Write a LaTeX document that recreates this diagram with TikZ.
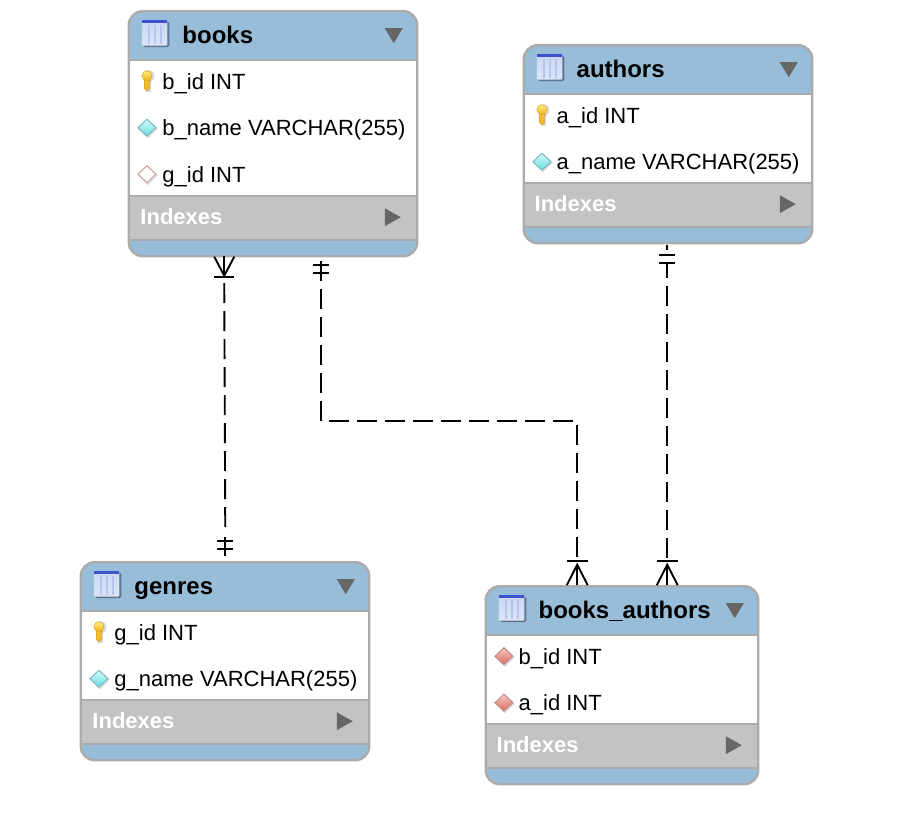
\documentclass[tikz,border=0pt]{standalone}
\usepackage{fontspec}
\setmainfont{Liberation Sans}
\usetikzlibrary{calc}
\definecolor{hdrblue}{HTML}{97BDD8}
\definecolor{idxgray}{HTML}{C3C3C3}
\definecolor{edgegray}{HTML}{ABABAB}
\definecolor{arrowgray}{HTML}{666666}
\definecolor{iconbar}{HTML}{3F50D0}
\definecolor{icontop}{HTML}{C9D6F2}
\definecolor{iconbot}{HTML}{DDE6F8}
\definecolor{iconstripe}{HTML}{B4C6EC}
\definecolor{iconshadow}{HTML}{5F7590}
\definecolor{keytop}{HTML}{FFF07A}
\definecolor{keybot}{HTML}{F2B21E}
\definecolor{keyedge}{HTML}{D9A520}
\definecolor{cyantop}{HTML}{D6FBFB}
\definecolor{cyanbot}{HTML}{63DDE0}
\definecolor{cyanedge}{HTML}{7FB9BE}
\definecolor{redtop}{HTML}{F8C8C0}
\definecolor{redbot}{HTML}{DC6A62}
\definecolor{rededge}{HTML}{C08F8A}
\definecolor{openedge}{HTML}{C9A097}
\tikzset{
  tablebox/.style={rectangle,anchor=north west,inner sep=0pt,outer sep=0pt},
  tableedge/.style={draw=edgegray,line width=2.4pt,rounded corners=14pt},
  sepline/.style={draw=edgegray,line width=1.7pt},
  tabletitle/.style={anchor=base west,inner sep=0pt,font=\fontsize{24}{26}\selectfont\bfseries,text=black},
  rowtext/.style={anchor=base west,inner sep=0pt,font=\fontsize{22}{24}\selectfont,text=black},
  idxtext/.style={anchor=base west,inner sep=0pt,font=\fontsize{22}{24}\selectfont\bfseries,text=white},
  relline/.style={draw=black,line width=1.9pt,line cap=butt,line join=miter},
  reldash/.style={relline,dash pattern=on 20pt off 8pt},
}
\newcommand{\txtadj}{0}
% diamond icon: centre #1,#2; top colour #3; bottom colour #4; edge #5
\newcommand{\icondiamond}[5]{%
  \fill[black,opacity=.12] (#1+1,#2-8.5) -- (#1+11,#2+1) -- (#1+1,#2+11) -- (#1-9,#2+1) -- cycle;
  \shade[top color=#3,bottom color=#4,draw=#5,line width=1pt]
    (#1,#2-8.5) -- (#1+9,#2) -- (#1,#2+8.5) -- (#1-9,#2) -- cycle;}
\newcommand{\iconkey}[2]{%
  \fill[black,opacity=.15] (#1+1.5,#2-5) circle (6pt);
  \fill[black,opacity=.15] (#1-.5,#2-1) rectangle (#1+4.5,#2+10.5);
  \shade[top color=keybot!70!keytop,bottom color=keybot,draw=keyedge,line width=.5pt]
    (#1-2.4,#2-2) -- (#1-2.4,#2+7.5) -- (#1,#2+9.5) -- (#1+2.4,#2+7.5) -- (#1+2.4,#2-2) -- cycle;
  \shade[top color=keytop,bottom color=keybot,draw=keyedge,line width=.5pt]
    (#1,#2-5.5) circle (5pt);}
% row: index #1, kind #2, text #3
\newcommand{\erdrow}[3]{%
  \pgfmathsetmacro{\rowbase}{78+#1*46.5}%
  \pgfmathsetmacro{\rowmid}{\rowbase-8}%
  \csname rowicon#2\endcsname{18.2}{\rowmid}%
  \node[rowtext] at (33.5+\txtadj,\rowbase) {#3};}
\newcommand{\rowiconkey}[2]{\iconkey{#1}{#2}}
\newcommand{\rowiconcyan}[2]{\icondiamond{#1}{#2}{cyantop}{cyanbot}{cyanedge}}
\newcommand{\rowiconopen}[2]{\icondiamond{#1}{#2}{white}{white}{openedge}}
\newcommand{\rowiconred}[2]{\icondiamond{#1}{#2}{redtop}{redbot}{rededge}}
% table: id, x, y, width, white-area bottom (relative), title, rows
\newcommand{\erdtable}[7]{%
  \node[tablebox,minimum width=#4pt,minimum height=#5+60pt] (#1) at (#2,#3) {};
  \begin{scope}[shift={(#2,#3)}]
    \begin{scope}
      \clip[rounded corners=14pt] (0,0) rectangle (#4,#5+60);
      \fill[hdrblue] (0,0) rectangle (#4,#5+60);
      \fill[white] (0,49) rectangle (#4,#5);
      \fill[idxgray] (0,#5) rectangle (#4,#5+44);
      \draw[sepline] (0,49) -- (#4,49);
      \draw[sepline] (0,#5) -- (#4,#5);
      \draw[sepline] (0,#5+44) -- (#4,#5+44);
    \end{scope}
    \draw[tableedge] (0,0) rectangle (#4,#5+60);
    % table icon
    \fill[iconshadow,rounded corners=1.5pt] (14.5,10.5) rectangle (40.5,36);
    \shade[top color=icontop,bottom color=iconbot,rounded corners=1pt] (13,9.5) rectangle (38.5,34.5);
    \fill[iconbar] (13,9) rectangle (38.5,12);
    \foreach \vx in {19,25,31}{\fill[iconstripe] (\vx,14) rectangle (\vx+2,32.5);}
    \node[tabletitle] at (53.5+\txtadj,32) {#6};
    \fill[arrowgray] (#4-32.5,17) -- (#4-14.5,17) -- (#4-23.5,32) -- cycle;
    \node[idxtext] at (11.5+\txtadj,#5+28) {Indexes};
    \fill[arrowgray] (#4-32.5,#5+12) -- (#4-16.5,#5+21) -- (#4-32.5,#5+30) -- cycle;
    #7
  \end{scope}}
\begin{document}
\begin{tikzpicture}[x=1pt,y=-1pt]
\useasboundingbox (0,0) rectangle (902,821);
\fill[white] (0,0) rectangle (902,821);
\erdtable{books}{128.75}{11.2}{288.5}{185}{books}{%
  \erdrow{0}{key}{b\_id INT}\erdrow{1}{cyan}{b\_name VARCHAR(255)}\erdrow{2}{open}{g\_id INT}}
\erdtable{genres}{80.75}{562.2}{288.5}{138}{genres}{%
  \erdrow{0}{key}{g\_id INT}\erdrow{1}{cyan}{g\_name VARCHAR(255)}}
\renewcommand{\txtadj}{-0.8}
\erdtable{authors}{523.75}{45.2}{288.5}{138}{authors}{%
  \erdrow{0}{key}{a\_id INT}\erdrow{1}{cyan}{a\_name VARCHAR(255)}}
\erdtable{booksauthors}{485.75}{586.2}{272.5}{138}{books\_authors}{%
  \erdrow{0}{red}{b\_id INT}\erdrow{1}{red}{a\_id INT}}
% free ends of the connectors on the table edges
\coordinate (ga) at ($(books.south west)+(95.5,0)$);
\coordinate (gb) at ($(genres.north west)+(144.5,0)$);
\coordinate (ba) at ($(books.south west)+(192,0)$);
\coordinate (bb) at ($(booksauthors.north west)+(91.5,0)$);
\coordinate (aa) at ($(authors.south west)+(143.5,0)$);
\coordinate (ab) at ($(booksauthors.north west)+(181.5,0)$);
\coordinate (bm) at ($(ba)+(0,165)$);
\coordinate (bn) at (bm -| bb);
% books -- genres
\draw[relline] (ga) -- ($(ga)+(0,21)$);
\draw[relline] ($(ga)+(-10,0.5)$) -- ($(ga)+(0,19.5)$) -- ($(ga)+(10,0.5)$);
\draw[relline] ($(ga)+(-10,21)$) -- ($(ga)+(10,21)$);
\draw[reldash] ($(ga)+(0,27)$) -- ($(gb)+(0,-34)$);
\draw[relline] ($(gb)+(0,-25)$) -- ($(gb)+(0,-6)$);
\draw[relline] ($(gb)+(-8,-21)$) -- ($(gb)+(8,-21)$);
\draw[relline] ($(gb)+(-8,-13)$) -- ($(gb)+(8,-13)$);
% books -- books_authors
\draw[relline] ($(ba)+(0,5)$) -- ($(ba)+(0,25)$);
\draw[relline] ($(ba)+(-8,9)$) -- ($(ba)+(8,9)$);
\draw[relline] ($(ba)+(-8,17)$) -- ($(ba)+(8,17)$);
\draw[reldash] ($(ba)+(0,33)$) -- (bm) -- (bn) -- ($(bb)+(0,-28)$);
\draw[relline] ($(bb)+(-10.5,-25)$) -- ($(bb)+(10.5,-25)$);
\draw[relline] ($(bb)+(-10.5,-1)$) -- ($(bb)+(0,-21.5)$) -- ($(bb)+(10.5,-1)$);
\draw[relline] ($(bb)+(0,-21.5)$) -- ($(bb)+(0,-1)$);
% authors -- books_authors
\draw[relline] ($(aa)+(0,1.5)$) -- ($(aa)+(0,6.5)$);
\draw[relline] ($(aa)+(-8,11.5)$) -- ($(aa)+(8,11.5)$);
\draw[relline] ($(aa)+(-8,19.5)$) -- ($(aa)+(8,19.5)$);
\draw[relline] ($(aa)+(0,19.5)$) -- ($(aa)+(0,35)$);
\draw[reldash] ($(aa)+(0,43)$) -- ($(ab)+(0,-28)$);
\draw[relline] ($(ab)+(-10.5,-25)$) -- ($(ab)+(10.5,-25)$);
\draw[relline] ($(ab)+(-10.5,-1)$) -- ($(ab)+(0,-21.5)$) -- ($(ab)+(10.5,-1)$);
\draw[relline] ($(ab)+(0,-21.5)$) -- ($(ab)+(0,-1)$);
\end{tikzpicture}
\end{document}
